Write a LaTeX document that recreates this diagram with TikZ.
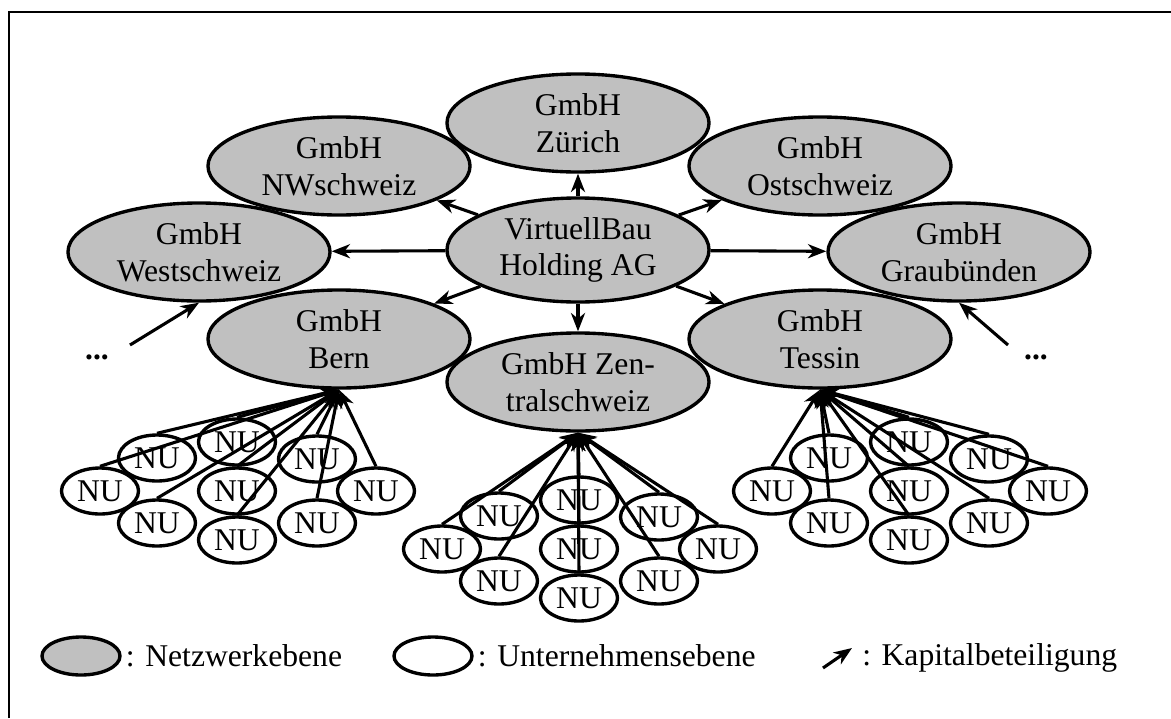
\documentclass[tikz,border=0pt]{standalone}
\usepackage{fontspec}
\setmainfont{Liberation Serif}
\usetikzlibrary{positioning,shapes.geometric,arrows.meta}
\definecolor{netgray}{HTML}{C0C0C0}
\tikzset{
  >={Stealth[length=13pt,width=10pt,inset=4pt]},
  my net/.style={
    ellipse,
    draw,
    line width=2.4pt,
    fill=netgray,
    inner sep=0pt,
    align=center,
    minimum width=65.5mm,
    minimum height=24.5mm
  },
  my nu/.style={
    ellipse,
    draw,
    line width=2.4pt,
    fill=white,
    inner sep=0pt,
    minimum width=19.25mm,
    minimum height=11.5mm
  },
  my link/.style={->,line width=2.2pt},
  my legend/.style={inner sep=0pt}
}

\begin{document}
\begin{tikzpicture}[x=0.025cm,y=-0.025cm]
\fontsize{22.5}{26}\selectfont
\useasboundingbox (0,0) rectangle (1171,718);
% Frame
\draw[line width=2pt] (9,718) |- (1171,12);
% Holding and the GmbHs
\node[my net,minimum height=26mm] (holding) at (578,250) {VirtuellBau\\Holding AG};
\node[my net] (zuerich) at (578,123) {GmbH\\Zürich};
\node[my net] (nw)      at (339,166) {GmbH\\NWschweiz};
\node[my net] (ost)     at (820,166) {GmbH\\Ostschweiz};
\node[my net] (west)    at (199,252) {GmbH\\Westschweiz};
\node[my net] (graub)   at (959,252) {GmbH\\Graubünden};
\node[my net] (bern)    at (339,339) {GmbH\\Bern};
\node[my net] (tessin)  at (820,339) {GmbH\\Tessin};
\node[my net] (zentral) at (578,382) {GmbH Zen-\\tralschweiz};
\draw[my link] (holding) -- (zuerich);
\draw[my link] (holding) -- (nw);
\draw[my link] (holding) -- (ost);
\draw[my link] (holding) -- (west);
\draw[my link] (holding) -- (graub);
\draw[my link] (holding) -- (bern);
\draw[my link] (holding) -- (tessin);
\draw[my link] (holding) -- (zentral);
% Further GmbHs
\node (wdots) at (97,357) {\textbf{...}};
\node (edots) at (1036,357) {\textbf{...}};
\coordinate (wfrom) at (130,345);
\coordinate (efrom) at (1008,345);
\draw[my link] (wfrom) -- (west.south);
\draw[my link] (efrom) -- (graub.south);
% NU clusters
\foreach \cl/\cx/\cy/\parent in {b/237/491/bern,z/579/549/zentral,t/909/491/tessin} {
  \foreach \dx/\dy [count=\i] in {-137/0,-80/-33,-80/32,0/-49,0/0,0/49,80/-32,80/32,139/0}
    \node[my nu] (\cl nu\i) at ({\cx+\dx},{\cy+\dy}) {NU};
  \foreach \i in {1,...,9}
    \draw[my link] (\cl nu\i.north) -- (\parent.south);
}
% Legend
\node[my net,minimum width=19.5mm,minimum height=9.5mm] (lgnet) at (81,656) {};
\node[my legend,right=1mm of lgnet] (lgnettext) {: Netzwerkebene};
\node[my nu,minimum width=19.5mm,minimum height=9.5mm] (lgnu) at (433,656) {};
\node[my legend,right=1mm of lgnu] (lgnutext) {: Unternehmensebene};
\coordinate (lgarrs) at (823,668);
\coordinate (lgarre) at (852,648);
\draw[my link] (lgarrs) -- (lgarre);
\node[my legend,anchor=base west] (lgarrtext) at (862,665) {: Kapitalbeteiligung};
\end{tikzpicture}
\end{document}
